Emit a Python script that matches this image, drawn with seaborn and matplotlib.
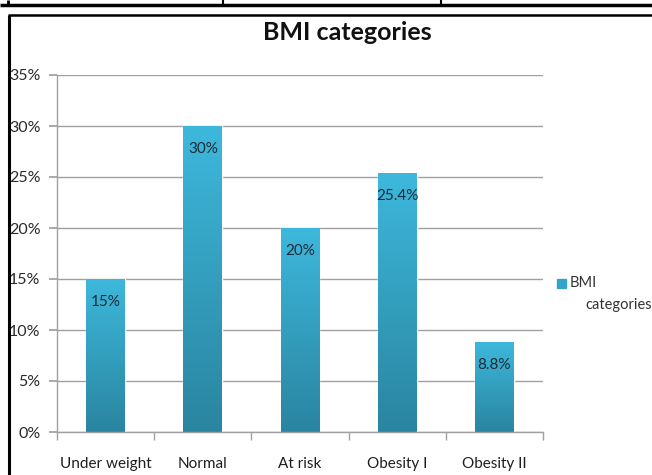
import numpy as np
import pandas as pd
import matplotlib
matplotlib.use("Agg")
import matplotlib.pyplot as plt
import seaborn as sns
from matplotlib.lines import Line2D
from matplotlib.colors import LinearSegmentedColormap

categories = ["Under weight", "Normal", "At risk", "Obesity I", "Obesity II"]
values = [15, 30, 20, 25.4, 8.8]
value_labels = ["15%", "30%", "20%", "25.4%", "8.8%"]
yticks = [0, 5, 10, 15, 20, 25, 30, 35]
ytick_labels = ["0%", "5%", "10%", "15%", "20%", "25%", "30%", "35%"]
series_name = "BMI categories"

sns.set_theme(style="white")
FONT = ["Lato", "DejaVu Sans"]
plt.rcParams["font.family"] = FONT

W, H = 652, 475
fig = plt.figure(figsize=(W / 100, H / 100), dpi=100)
fig.patch.set_facecolor("white")

ax = fig.add_axes([57 / W, 1 - 432 / H, (543 - 57) / W, (432 - 75) / H])

df = pd.DataFrame({"category": categories, "value": values})
sns.barplot(data=df, x="category", y="value", ax=ax, color="#33A7CB",
            width=0.4, saturation=1, order=categories)

# gradient fill for bars
cmap = LinearSegmentedColormap.from_list("g", ["#2A85A0", "#3DB8DC"])
grad = np.linspace(0, 1, 256).reshape(-1, 1)
for patch in list(ax.patches):
    x0 = patch.get_x()
    w = patch.get_width()
    h = patch.get_height()
    im = ax.imshow(grad, cmap=cmap, origin="lower", aspect="auto",
                   extent=(x0, x0 + w, 0, h), zorder=patch.get_zorder() + 0.1)
    im.set_clip_path(patch)
ax.set_xlim(-0.5, len(categories) - 0.5)
ax.set_ylim(0, 35)

# grid
ax.set_yticks(yticks)
ax.set_yticklabels(ytick_labels)
ax.yaxis.grid(True, color="#a0a0a0", linewidth=1.0)
ax.xaxis.grid(False)
ax.set_axisbelow(True)
for s in ["top", "right"]:
    ax.spines[s].set_visible(False)
ax.spines["left"].set_color("#a0a0a0")
ax.spines["bottom"].set_color("#a0a0a0")
ax.spines["left"].set_linewidth(1.0)
ax.spines["bottom"].set_linewidth(1.0)

ax.tick_params(axis="y", which="both", left=True, length=6, color="#a0a0a0",
               labelsize=11.5, labelcolor="#2a2a2a", pad=6)
ax.set_xticks(range(len(categories)))
ax.set_xticklabels(categories)
ax.tick_params(axis="x", which="major", bottom=False, labelsize=11,
               labelcolor="#1e1e1e", pad=12)
ax.set_xticks(np.arange(-0.5, len(categories), 1.0), minor=True)
ax.tick_params(axis="x", which="minor", bottom=True, length=6, color="#a0a0a0")
ax.set_xlabel("")
ax.set_ylabel("")

# value labels inside bars
for i, (v, lab) in enumerate(zip(values, value_labels)):
    ax.annotate(lab, xy=(i, v), xytext=(0, -16.5), textcoords="offset points",
                ha="center", va="center", fontsize=11, color="#1c2b38")

# title
fig.text(347 / W, 1 - 33 / H, "BMI categories", ha="center", va="center",
         fontsize=18, fontweight="bold", color="#111111", family=FONT)

# legend
fig.patches.append(plt.Rectangle((557 / W, 1 - 288 / H), 9 / W, 9 / H,
                                 transform=fig.transFigure, color="#31A5C9"))
fig.text(570 / W, 1 - 283 / H, "BMI", ha="left", va="center", fontsize=10.5,
         color="#333333", family=FONT)
fig.text(585 / W, 1 - 305 / H, "categories", ha="left", va="center",
         fontsize=10.5, color="#333333", family=FONT)

# frame lines (table bottom and chart border)
def fline(xs, ys, lw):
    fig.add_artist(Line2D([x / W for x in xs], [1 - y / H for y in ys],
                          transform=fig.transFigure, color="black",
                          linewidth=lw, solid_capstyle="butt"))

fline([0, W], [4.5, 4.5], 2.5)
fline([8, 8], [0, 5], 2.0)
fline([223, 223], [0, 5], 1.5)
fline([441, 441], [0, 5], 1.5)
fline([8, W], [15, 15], 1.8)
fline([9, 9], [15, H], 2.2)

fig.savefig("out.png", dpi=100, facecolor="white")
